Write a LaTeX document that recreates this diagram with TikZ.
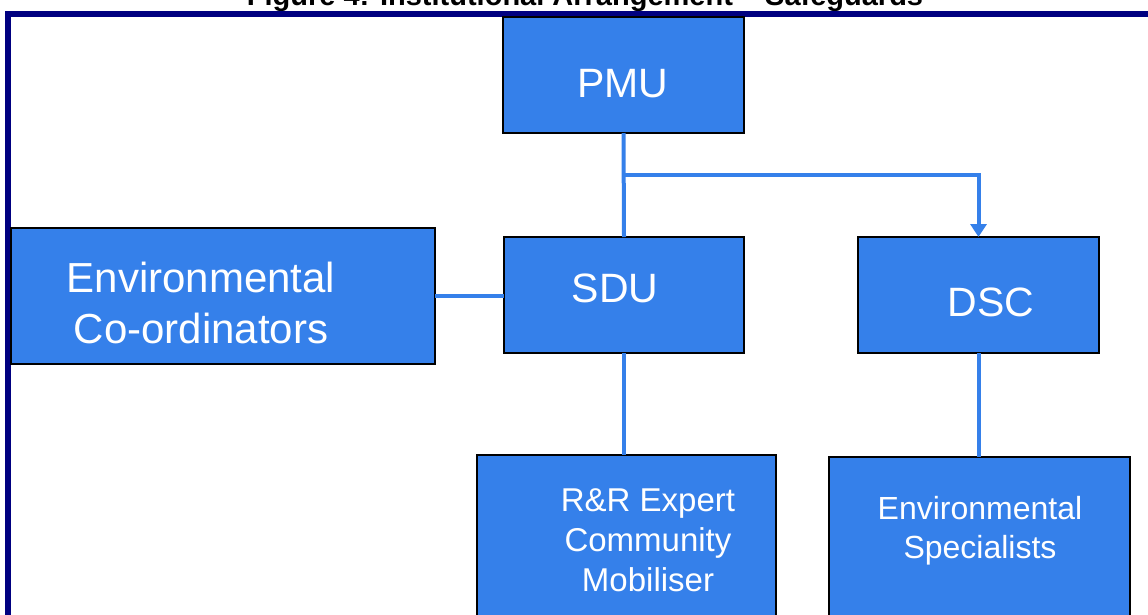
\documentclass[tikz,border=0pt]{standalone}
\usepackage{fontspec}
\setmainfont{Liberation Sans}
\usetikzlibrary{arrows.meta}
\definecolor{boxblue}{RGB}{53,128,234}
\definecolor{framenavy}{RGB}{0,0,128}
\begin{document}
\begin{tikzpicture}[x=1pt,y=-1pt,
  box/.style={draw=black, line width=1.2pt, fill=boxblue, inner sep=0pt, outer sep=0pt},
  lbl/.style={text=white, align=center, inner sep=0pt, anchor=base},
  link/.style={draw=boxblue, line width=4pt}]
\useasboundingbox (0,0) rectangle (1148,614);
\node[anchor=base, inner sep=0pt, font=\bfseries\fontsize{29}{29}\selectfont] (title) at (585,5) {Figure 4: Institutional Arrangement – Safeguards};
\draw[framenavy, line width=6pt] (8,14) rectangle (1160,630);
% boxes
\node[box, minimum width=241pt, minimum height=116pt] (pmu) at (623.5,75) {};
\node[box, minimum width=240pt, minimum height=116pt] (sdu) at (624,295) {};
\node[box, minimum width=424pt, minimum height=136pt] (ec) at (223,296) {};
\node[box, minimum width=241pt, minimum height=116pt] (dsc) at (978.5,295) {};
\node[box, minimum width=299pt, minimum height=185pt] (rr) at (626.5,547.5) {};
\node[box, minimum width=301pt, minimum height=183pt] (es) at (979.5,548.5) {};
% labels
\node[lbl, font=\fontsize{41}{41}\selectfont] (pmut) at (623,97) {PMU};
\node[lbl, font=\fontsize{41}{41}\selectfont] (sdut) at (615,302) {SDU};
\node[lbl, font=\fontsize{41}{41}\selectfont] (dsct) at (991,316) {DSC};
\node[lbl, font=\fontsize{42}{51}\selectfont] (ect) at (201,343) {Environmental\\Co-ordinators};
\node[lbl, font=\fontsize{33}{40}\selectfont] (rrt) at (648,591) {R\&R Expert\\Community\\Mobiliser};
\node[lbl, font=\fontsize{32}{39}\selectfont] (est) at (980,558) {Environmental\\Specialists};
% connectors
\coordinate (j) at (623.5,175);
\draw[link] (pmu.south) -- (sdu.north);
\draw[link, -{Triangle[length=13pt,width=16pt]}] (j) -| (dsc.north);
\draw[link] (ec.east) -- (ec.east -| sdu.west);
\draw[link] (sdu.south) -- (sdu.south |- rr.north);
\draw[link] (dsc.south) -- (dsc.south |- es.north);
\end{tikzpicture}
\end{document}
